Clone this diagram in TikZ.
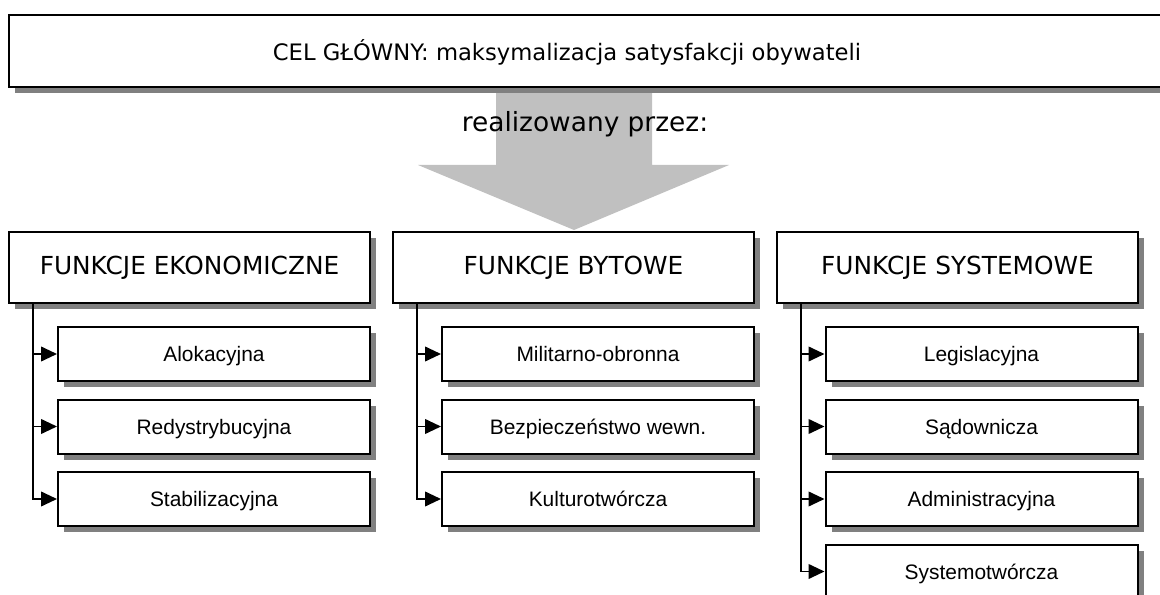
\documentclass[tikz,border=0pt]{standalone}
\usepackage{fontspec}
\setmainfont{DejaVu Sans}
\newfontfamily\arialfont{Liberation Sans}
\usetikzlibrary{arrows.meta,shadows,calc}
\definecolor{strzalka}{RGB}{192,192,192}
\tikzset{
  ramka/.style={draw,line width=1.5pt,fill=white,
    general shadow={fill=gray,shadow xshift=4.5pt,shadow yshift=-4.5pt}},
  grupa/.style={ramka,minimum width=270.75pt,minimum height=53.25pt,font=\fontsize{18.6}{22}\selectfont},
  funkcja/.style={ramka,minimum width=234pt,minimum height=40.5pt,text depth=0pt,font=\arialfont\fontsize{15.7}{19}\selectfont},
  lacznik/.style={line width=1.4pt,-{Triangle[length=12pt,width=11pt]}}
}
\begin{document}
\begin{tikzpicture}[x=0.75pt,y=-0.75pt]
  \useasboundingbox (0,0) rectangle (1160,595);
  \clip (0,0) rectangle (1160,595);
  % duza strzalka
  \fill[strzalka] (496,80)--(652,80)--(652,165)--(729,165)--(574,230)--(418,165)--(496,165)--cycle;
  % cel glowny
  \node[ramka,minimum width=878.25pt,minimum height=54pt] (celramka) at (594.5,51) {};
  \node[font=\fontsize{17.0}{21}\selectfont] (cel) at (567,52) {CEL GŁÓWNY: maksymalizacja satysfakcji obywateli};
  \node[font=\fontsize{19.8}{24}\selectfont] (przez) at (585,124) {realizowany przez:};
  % grupy funkcji
  \node[grupa] (ekon) at (189.5,267.5) {FUNKCJE EKONOMICZNE};
  \node[grupa] (byt) at (573.5,267.5) {FUNKCJE BYTOWE};
  \node[grupa] (sys) at (957.5,267.5) {FUNKCJE SYSTEMOWE};
  % funkcje szczegolowe
  \node[funkcja] (alok) at (214,354) {Alokacyjna};
  \node[funkcja] (redys) at (214,426.5) {Redystrybucyjna};
  \node[funkcja] (stab) at (214,499) {Stabilizacyjna};
  \node[funkcja] (milit) at (598,354) {Militarno-obronna};
  \node[funkcja] (bezp) at (598,426.5) {Bezpieczeństwo wewn.};
  \node[funkcja] (kult) at (598,499) {Kulturotwórcza};
  \node[funkcja] (legis) at (981.5,354) {Legislacyjna};
  \node[funkcja] (sad) at (981.5,426.5) {Sądownicza};
  \node[funkcja] (admin) at (981.5,499) {Administracyjna};
  \node[funkcja] (systw) at (981.5,571.5) {Systemotwórcza};
  % polaczenia
  \foreach \s in {alok,redys,stab}
    \draw[lacznik] ($(ekon.south west)+(25,0)$) |- (\s.west);
  \foreach \s in {milit,bezp,kult}
    \draw[lacznik] ($(byt.south west)+(25,0)$) |- (\s.west);
  \foreach \s in {legis,sad,admin,systw}
    \draw[lacznik] ($(sys.south west)+(25,0)$) |- (\s.west);
\end{tikzpicture}
\end{document}
